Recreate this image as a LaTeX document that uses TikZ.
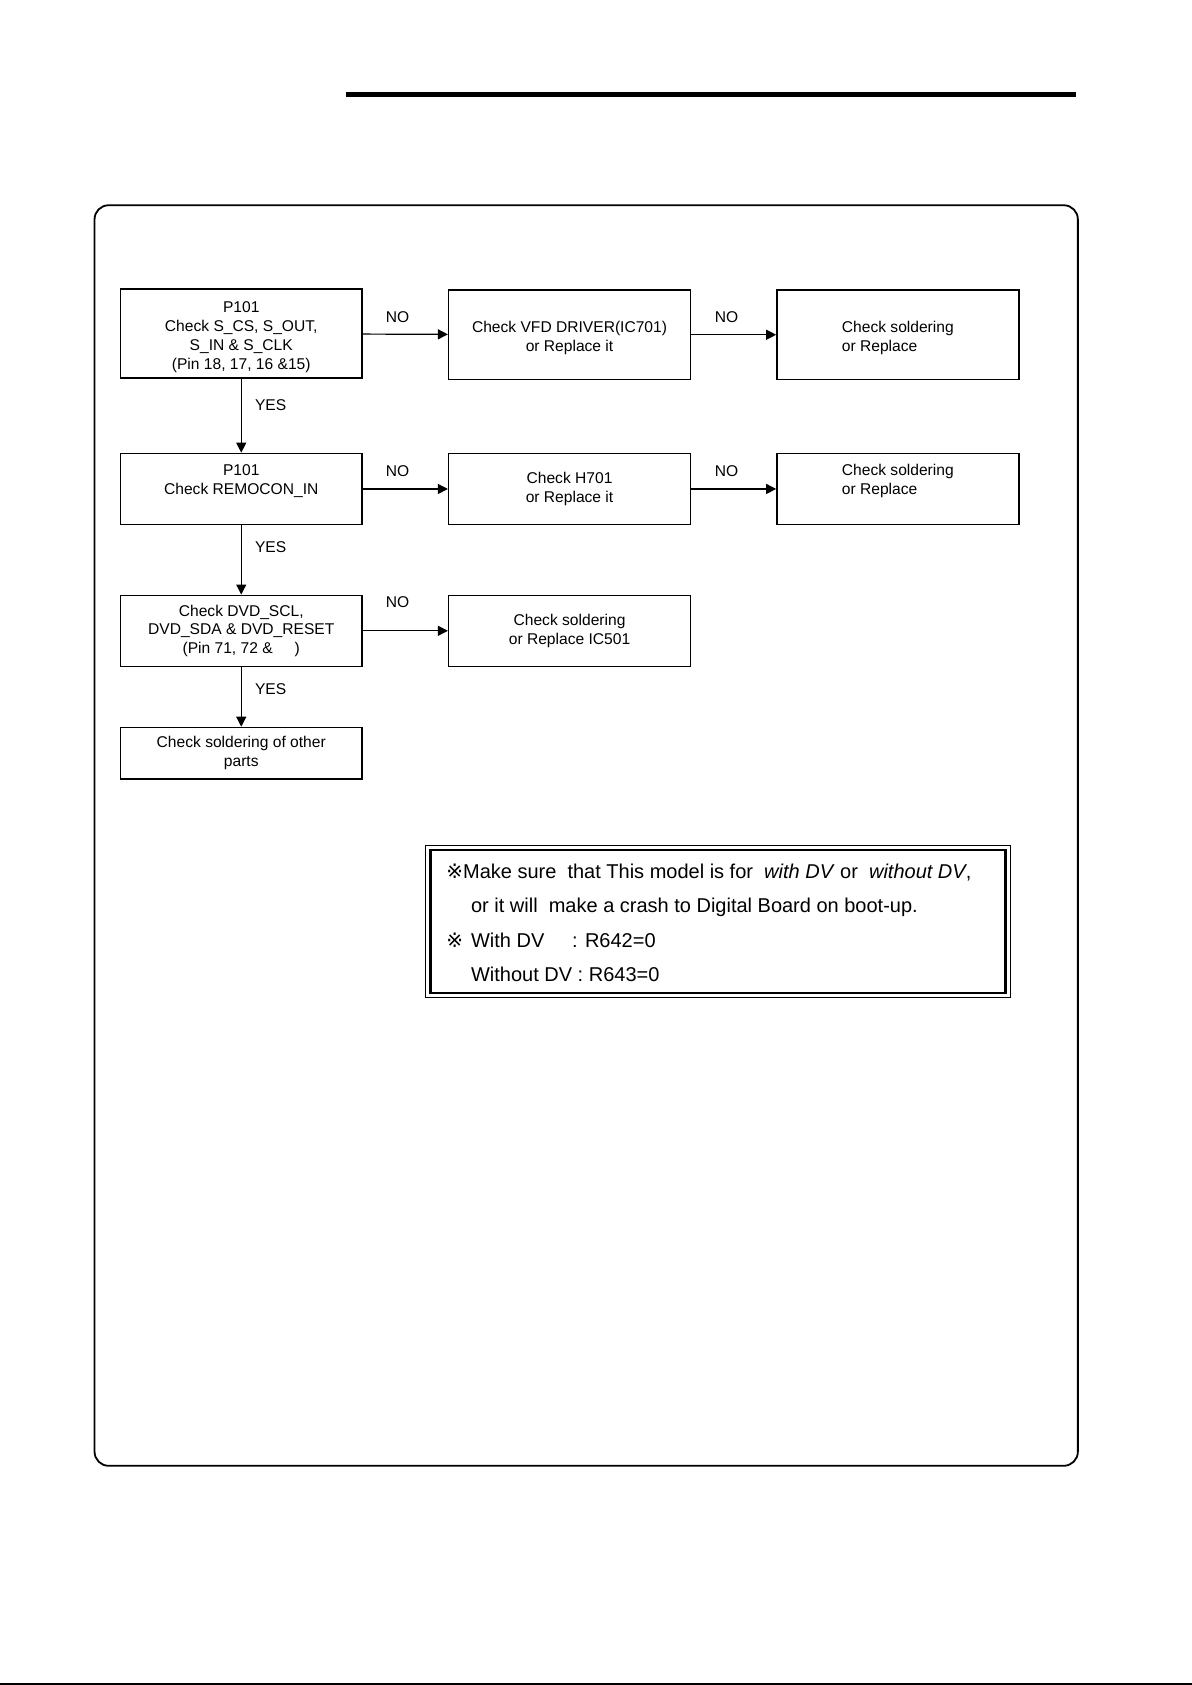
\documentclass[tikz,border=0pt]{standalone}
\usepackage{fontspec}
\setmainfont{Liberation Sans}
\newfontfamily\symfont{DejaVu Sans}
\usetikzlibrary{arrows.meta}
\begin{document}
\begin{tikzpicture}[x=0.5375bp,y=-0.5375bp,
  boxtext/.style={font=\fontsize{7.8bp}{9.4bp}\selectfont},
  fbox/.style={draw,line width=0.8bp,inner sep=0pt,minimum width=120.9bp,align=center,boxtext},
  tall/.style={fbox,minimum height=44.6bp},
  mid/.style={fbox,minimum height=35.5bp},
  short/.style={fbox,minimum height=25.8bp},
  conn/.style={line width=0.6bp,-{Triangle[length=5bp,width=5bp]}},
  lbl/.style={boxtext,inner sep=0pt},
  notetext/.style={font=\fontsize{10bp}{12bp}\selectfont,inner sep=0pt,anchor=base west}
]
\useasboundingbox (0,0) rectangle (1109,1568);
% header rule and bottom rule
\coordinate (hl) at (322,88);
\coordinate (hr) at (1001,88);
\draw[line width=2.4bp] (hl) -- (hr);
\coordinate (bl) at (0,1567);
\coordinate (br) at (1109,1567);
\draw[line width=0.6bp] (bl) -- (br);
% frame
\draw[line width=0.9bp,rounded corners=7bp] (88,191) rectangle (1003,1364);

% boxes
\node[tall] (A) at (224.5,310.5) {\rule{0pt}{9bp}P101\\Check S\_CS, S\_OUT,\\S\_IN \& S\_CLK\\(Pin 18, 17, 16 \&15)};
\node[tall] (B) at (530,311.5) {\rule{0pt}{9bp}Check VFD DRIVER(IC701)\\or Replace it};
\node[tall,align=left] (C) at (835.5,311.5) {\rule{0pt}{9bp}Check soldering\\or Replace};
\node[mid] (D) at (224.5,455) {P101\\Check REMOCON\_IN\\\mbox{}};
\node[mid] (E) at (530,455) {Check H701\\or Replace it};
\node[mid,align=left] (F) at (835.5,455) {Check soldering\\or Replace\\\mbox{}};
\node[mid] (G) at (224.5,587) {Check DVD\_SCL,\\DVD\_SDA \& DVD\_RESET\\(Pin 71, 72 \&\hspace{11bp})};
\node[mid] (H) at (530,587) {Check soldering\\or Replace IC501};
\node[short] (I) at (224.5,701) {Check soldering of other\\parts};

% connectors
\draw[conn] (A) -- (B);
\draw[conn] (B) -- (C);
\draw[conn] (D) -- (E);
\draw[conn] (E) -- (F);
\draw[conn] (G) -- (H);
\draw[conn] (A) -- (D);
\draw[conn] (D) -- (G);
\draw[conn] (G) -- (I);

% labels
\node[lbl] (n1) at (370,295) {NO};
\node[lbl] (n2) at (676,295) {NO};
\node[lbl] (n3) at (370,438) {NO};
\node[lbl] (n4) at (676,438) {NO};
\node[lbl] (n5) at (370,560) {NO};
\node[lbl,anchor=west] (y1) at (237,377) {YES};
\node[lbl,anchor=west] (y2) at (237,509) {YES};
\node[lbl,anchor=west] (y3) at (237,641) {YES};

% note box
\draw[line width=0.6bp] (396,787) rectangle (940,928);
\draw[line width=1.3bp] (400.5,791) rectangle (935.5,924);
\node[notetext] (s1) at (415,817.5) {{\symfont ※}Make sure\ \ that\ This model is for\ \ \textit{with DV} or\ \ \textit{without DV},};
\node[notetext] (t2) at (438,849.5) {or it will\ \ make a crash to Digital Board\ on boot-up.};
\node[notetext] (s3) at (415,881.5) {{\symfont ※}};
\node[notetext] (t3) at (438,881.5) {With DV};
\node[notetext] (t3b) at (532,881.5) {: R642=0};
\node[notetext] (t4) at (438,913.5) {Without DV : R643=0};
\end{tikzpicture}
\end{document}
